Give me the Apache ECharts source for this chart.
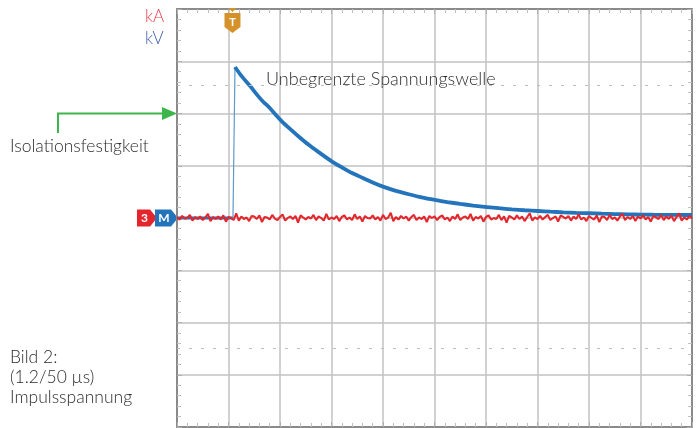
<!DOCTYPE html>
<html>
<head>
<meta charset="utf-8">
<script src="https://cdn.jsdelivr.net/npm/echarts@6/dist/echarts.min.js"></script>
<style>
  html, body { margin: 0; padding: 0; background: #fff; }
  #c { width: 697px; height: 428px; }
</style>
</head>
<body>
<div id="c"></div>
<script>
// Screen: 10 horizontal x 8 vertical divisions, values given in divisions.
const xMin = 0, xMax = 10;
const yMin = -4, yMax = 4;

// Channel 3 (current, kA): noisy trace around zero, one sample every 0.05 div
const currentStep = 0.05;
const currentTrace = [
  0.02,-0.03,0.04,-0.01,0.00,0.06,-0.05,0.02,-0.02,0.03,
  -0.04,0.01,0.08,-0.06,0.02,-0.02,0.03,-0.03,0.05,-0.07,
  0.02,0.00,-0.04,0.09,-0.05,0.03,-0.02,0.01,-0.06,0.04,
  0.03,-0.02,0.05,-0.08,0.02,0.01,-0.03,0.06,-0.01,-0.04,
  0.02,0.07,-0.05,0.00,0.03,-0.02,0.04,-0.09,0.05,0.01,
  -0.03,0.02,-0.01,0.06,-0.04,0.03,0.00,-0.05,0.08,-0.03,
  0.01,-0.02,0.04,-0.06,0.02,0.05,-0.03,0.01,-0.04,0.07,
  -0.02,0.03,-0.07,0.04,0.00,-0.01,0.05,-0.03,0.02,-0.05,
  0.06,-0.02,0.01,0.10,-0.06,0.02,-0.03,0.04,-0.01,0.03,
  -0.05,0.02,0.06,-0.04,0.01,-0.02,0.03,-0.08,0.04,0.00,
  0.03,-0.04,0.02,0.05,-0.03,0.01,-0.06,0.03,-0.02,0.07,
  -0.04,0.01,0.03,-0.02,0.08,-0.05,0.02,-0.01,0.04,-0.07,
  0.02,0.05,-0.03,0.00,-0.02,0.06,-0.04,0.03,-0.09,0.04,
  0.01,-0.03,0.05,-0.02,0.03,-0.06,0.02,0.09,-0.05,0.01,
  -0.02,0.04,-0.03,0.02,0.06,-0.04,0.00,0.03,-0.07,0.05,
  0.02,-0.01,0.04,-0.05,0.03,-0.02,0.07,-0.03,0.01,-0.06,
  0.04,0.00,-0.03,0.05,-0.08,0.03,0.02,-0.04,0.06,-0.02,
  0.01,-0.05,0.03,0.08,-0.04,0.02,-0.02,0.04,-0.06,0.03,
  -0.01,0.05,-0.03,0.02,-0.07,0.04,0.01,-0.02,0.06,-0.04,
  0.03,-0.02,0.05,-0.06,0.02,0.09,-0.05,0.01,-0.03,0.04,
  -0.01
];

// Channel M (voltage, kV): baseline before the trigger
const voltageBaseTime  = [0, 1.087];
const voltageBaseValue = [0, 0];
// steep front of the 1.2/50 impulse
const voltageFrontTime  = [1.087, 1.126];
const voltageFrontValue = [0, 2.89];
// tail of the impulse
const voltageTailTime = [
  1.126, 1.25, 1.417, 1.52, 1.65, 1.806, 1.92, 2.04, 2.2, 2.35,
  2.557, 2.75, 3.01, 3.2, 3.4, 3.6, 3.8, 4.0, 4.25, 4.5,
  4.75, 5.01, 5.25, 5.5, 5.75, 6.02, 6.25, 6.5, 6.75, 7.01,
  7.25, 7.5, 7.75, 8.0, 8.25, 8.5, 8.75, 9.01, 9.25, 9.5,
  9.75, 10
];
const voltageTailValue = [
  2.89, 2.72, 2.53, 2.40, 2.25, 2.10, 1.97, 1.845, 1.70, 1.57,
  1.40, 1.26, 1.08, 0.97, 0.86, 0.77, 0.68, 0.60, 0.52, 0.455,
  0.395, 0.345, 0.305, 0.27, 0.238, 0.21, 0.187, 0.166, 0.148, 0.134,
  0.121, 0.109, 0.099, 0.091, 0.083, 0.076, 0.070, 0.065, 0.062, 0.06,
  0.058, 0.057
];

const triggerTime = 1.087;
const insulationLevel = 2.0;
const cursorLevels = [2.54, -2.5];

const channelLabels = ['kA', 'kV'];
const peakCaption = 'Unbegrenzte Spannungswelle';
const levelCaption = 'Isolationsfestigkeit';
const figureCaption = ['Bild 2:', '(1.2/50 µs)', 'Impulsspannung'];

const RED = '#e4262c';
const BLUE = '#2474bb';
const GRID = '#c2c2c2';
const FRAME = '#8a8a8a';
const TEXT = '#2c2c2c';
const FONT = 'Lato, "Open Sans", sans-serif';

const zip = (xs, ys) => xs.map((x, i) => [x, ys[i]]);
const currentData = currentTrace.map((v, i) => [+(i * currentStep).toFixed(3), v]);

const chart = echarts.init(document.getElementById('c'), null, { renderer: 'canvas' });

const frameAxis = (pos, isX, withGrid) => ({
  type: 'value',
  position: pos,
  min: isX ? xMin : yMin,
  max: isX ? xMax : yMax,
  interval: 1,
  axisLabel: { show: false },
  axisLine: { show: true, onZero: false, lineStyle: { color: FRAME, width: 2 } },
  axisTick: { show: true, inside: true, length: 5, lineStyle: { color: '#b0b0b0', width: 1 } },
  minorTick: { show: true, splitNumber: 5, length: 4, lineStyle: { color: '#c0c0c0', width: 1 } },
  splitLine: { show: withGrid, lineStyle: { color: GRID, width: 1.5 } },
  minorSplitLine: { show: false }
});

chart.setOption({
  animation: false,
  backgroundColor: '#ffffff',
  grid: { left: 177, right: 5, top: 9, bottom: 1, containLabel: false },
  xAxis: [frameAxis('bottom', true, true), frameAxis('top', true, false)],
  yAxis: [frameAxis('left', false, true), frameAxis('right', false, false)],
  series: [
    {
      type: 'line', name: 'cursor', data: [], silent: true,
      markLine: {
        silent: true, symbol: 'none', label: { show: false },
        lineStyle: { color: '#bdbdbd', type: [3, 9], width: 1 },
        data: cursorLevels.map(v => ({ yAxis: v }))
      }
    },
    {
      type: 'line', name: 'kV base', data: zip(voltageBaseTime, voltageBaseValue),
      showSymbol: false, lineStyle: { color: BLUE, width: 3 }
    },
    {
      type: 'line', name: 'kV front', data: zip(voltageFrontTime, voltageFrontValue),
      showSymbol: false, lineStyle: { color: '#5b9bd0', width: 1.2 }
    },
    {
      type: 'line', name: 'kV', data: zip(voltageTailTime, voltageTailValue),
      showSymbol: false, smooth: 0.2, lineStyle: { color: BLUE, width: 3.8 }
    },
    {
      type: 'line', name: 'kA', data: currentData,
      showSymbol: false, lineStyle: { color: RED, width: 2 }
    }
  ]
});

// Overlay: channel tags, trigger flag, captions and the insulation-level arrow
const px = (x, y) => chart.convertToPixel({ xAxisIndex: 0, yAxisIndex: 0 }, [x, y]);
const zero = px(xMin, 0);
const trig = px(triggerTime, yMax);
const level = px(xMin, insulationLevel);
const y0 = zero[1], xl = zero[0];

const tag = (x1, x2, fill, label, z) => ({
  type: 'group', z: z,
  children: [
    { type: 'polygon',
      shape: { points: [[x1, y0 - 8.5], [x2 - 7, y0 - 8.5], [x2, y0], [x2 - 7, y0 + 8.5], [x1, y0 + 8.5]] },
      style: { fill: fill } },
    { type: 'text', x: (x1 + x2 - 5) / 2, y: y0 + 0.5,
      style: { text: label, fill: '#fff', font: 'bold 12px ' + FONT, align: 'center', verticalAlign: 'middle' } }
  ]
});

const txt = (x, y, s, color, size) => ({
  type: 'text', x: x, y: y,
  style: { text: s, fill: color, font: '300 ' + size + 'px ' + FONT, verticalAlign: 'middle' }
});

const tx = trig[0] - 0.5, ty = trig[1];
chart.setOption({
  graphic: [
    tag(137, 157, RED, '3', 10),
    tag(155, xl + 1, BLUE, 'M', 11),
    { type: 'polygon', z: 12,
      shape: { points: [[tx - 4, ty - 1], [tx + 4, ty - 1], [tx, ty + 3]] },
      style: { fill: '#d6922a' } },
    { type: 'polygon', z: 12,
      shape: { points: [[tx - 8, ty + 4], [tx + 8, ty + 4], [tx + 8, ty + 18], [tx, ty + 24], [tx - 8, ty + 18]] },
      style: { fill: '#d6922a' } },
    { type: 'text', z: 13, x: tx, y: ty + 13,
      style: { text: 'T', fill: '#fff', font: 'bold 11px ' + FONT, align: 'center', verticalAlign: 'middle' } },
    txt(145, 17, channelLabels[0], '#ec3f4c', 17),
    txt(145, 39, channelLabels[1], '#4660aa', 17),
    txt(266, 79, peakCaption, TEXT, 18),
    txt(10, 146, levelCaption, TEXT, 17.5),
    txt(10, 357, figureCaption[0], TEXT, 17.5),
    txt(10, 377, figureCaption[1], TEXT, 17.5),
    txt(10, 397, figureCaption[2], TEXT, 17.5),
    { type: 'polyline', z: 12,
      shape: { points: [[58, 133], [58, level[1]], [xl - 13, level[1]]] },
      style: { stroke: '#3db54a', lineWidth: 2, fill: null } },
    { type: 'polygon', z: 12,
      shape: { points: [[xl - 15, level[1] - 6.5], [xl, level[1]], [xl - 15, level[1] + 6.5]] },
      style: { fill: '#3db54a' } }
  ]
});
</script>
</body>
</html>
